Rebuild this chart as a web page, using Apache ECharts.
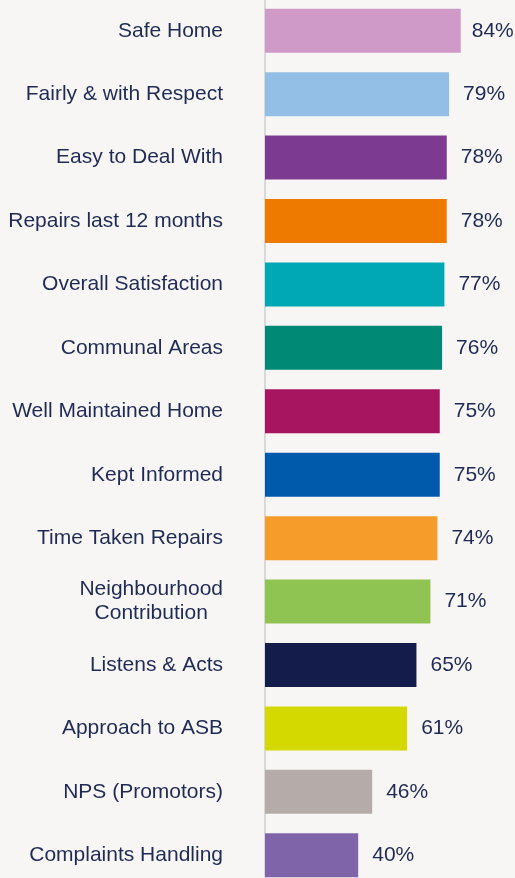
<!DOCTYPE html>
<html>
<head>
<meta charset="utf-8">
<script src="https://cdn.jsdelivr.net/npm/echarts@6/dist/echarts.min.js"></script>
<style>
  html, body { margin: 0; padding: 0; background: #f7f6f4; }
  #chart { width: 515px; height: 878px; }
</style>
</head>
<body>
<div id="chart"></div>
<script>
// measures, top to bottom
const categories = [
  'Safe Home', 'Fairly & with Respect', 'Easy to Deal With', 'Repairs last 12 months',
  'Overall Satisfaction', 'Communal Areas', 'Well Maintained Home', 'Kept Informed',
  'Time Taken Repairs', 'Neighbourhood\nContribution', 'Listens & Acts', 'Approach to ASB',
  'NPS (Promotors)', 'Complaints Handling'
]
const values = [84, 79, 78, 78, 77, 76, 75, 75, 74, 71, 65, 61, 46, 40]
const barColors = [
  '#d09ac8', '#93bfe6', '#7d3a91', '#ee7a00', '#00a7b5', '#008a76', '#a7145f',
  '#005aab', '#f59c2a', '#8fc352', '#141c4c', '#d4d900', '#b5aba8', '#8064aa'
]

const textColor = '#1f2a55'
const font = 'Liberation Sans, Arial, sans-serif'
const chart = echarts.init(document.getElementById('chart'))

chart.setOption({
  backgroundColor: '#f7f6f4',
  animation: false,
  grid: {left: 265, right: 17, top: -1, bottom: -9, outerBoundsMode: 'none'},
  xAxis: {
    type: 'value', min: 0, max: 100, show: false
  },
  yAxis: {
    type: 'category',
    inverse: true,
    data: categories,
    axisLine: {show: true, lineStyle: {color: '#d9d9d9', width: 2}},
    axisTick: {show: false},
    axisLabel: {
      margin: 42, align: 'right',
      formatter: (v) => v.split('\n').map(s => '{c|' + s + '}').join('\n'),
      rich: {
        c: {color: textColor, fontSize: 21, fontFamily: font, lineHeight: 24, align: 'center'}
      }
    }
  },
  series: [{
    type: 'bar',
    barWidth: 44,
    data: values.map((v, i) => ({
      value: v,
      itemStyle: {color: barColors[i]},
      label: {distance: i === 0 ? 11 : 14}
    })),
    label: {
      show: true, position: 'right',
      formatter: '{c}%', color: textColor, fontSize: 21, fontFamily: font
    }
  }]
})
</script>
</body>
</html>
